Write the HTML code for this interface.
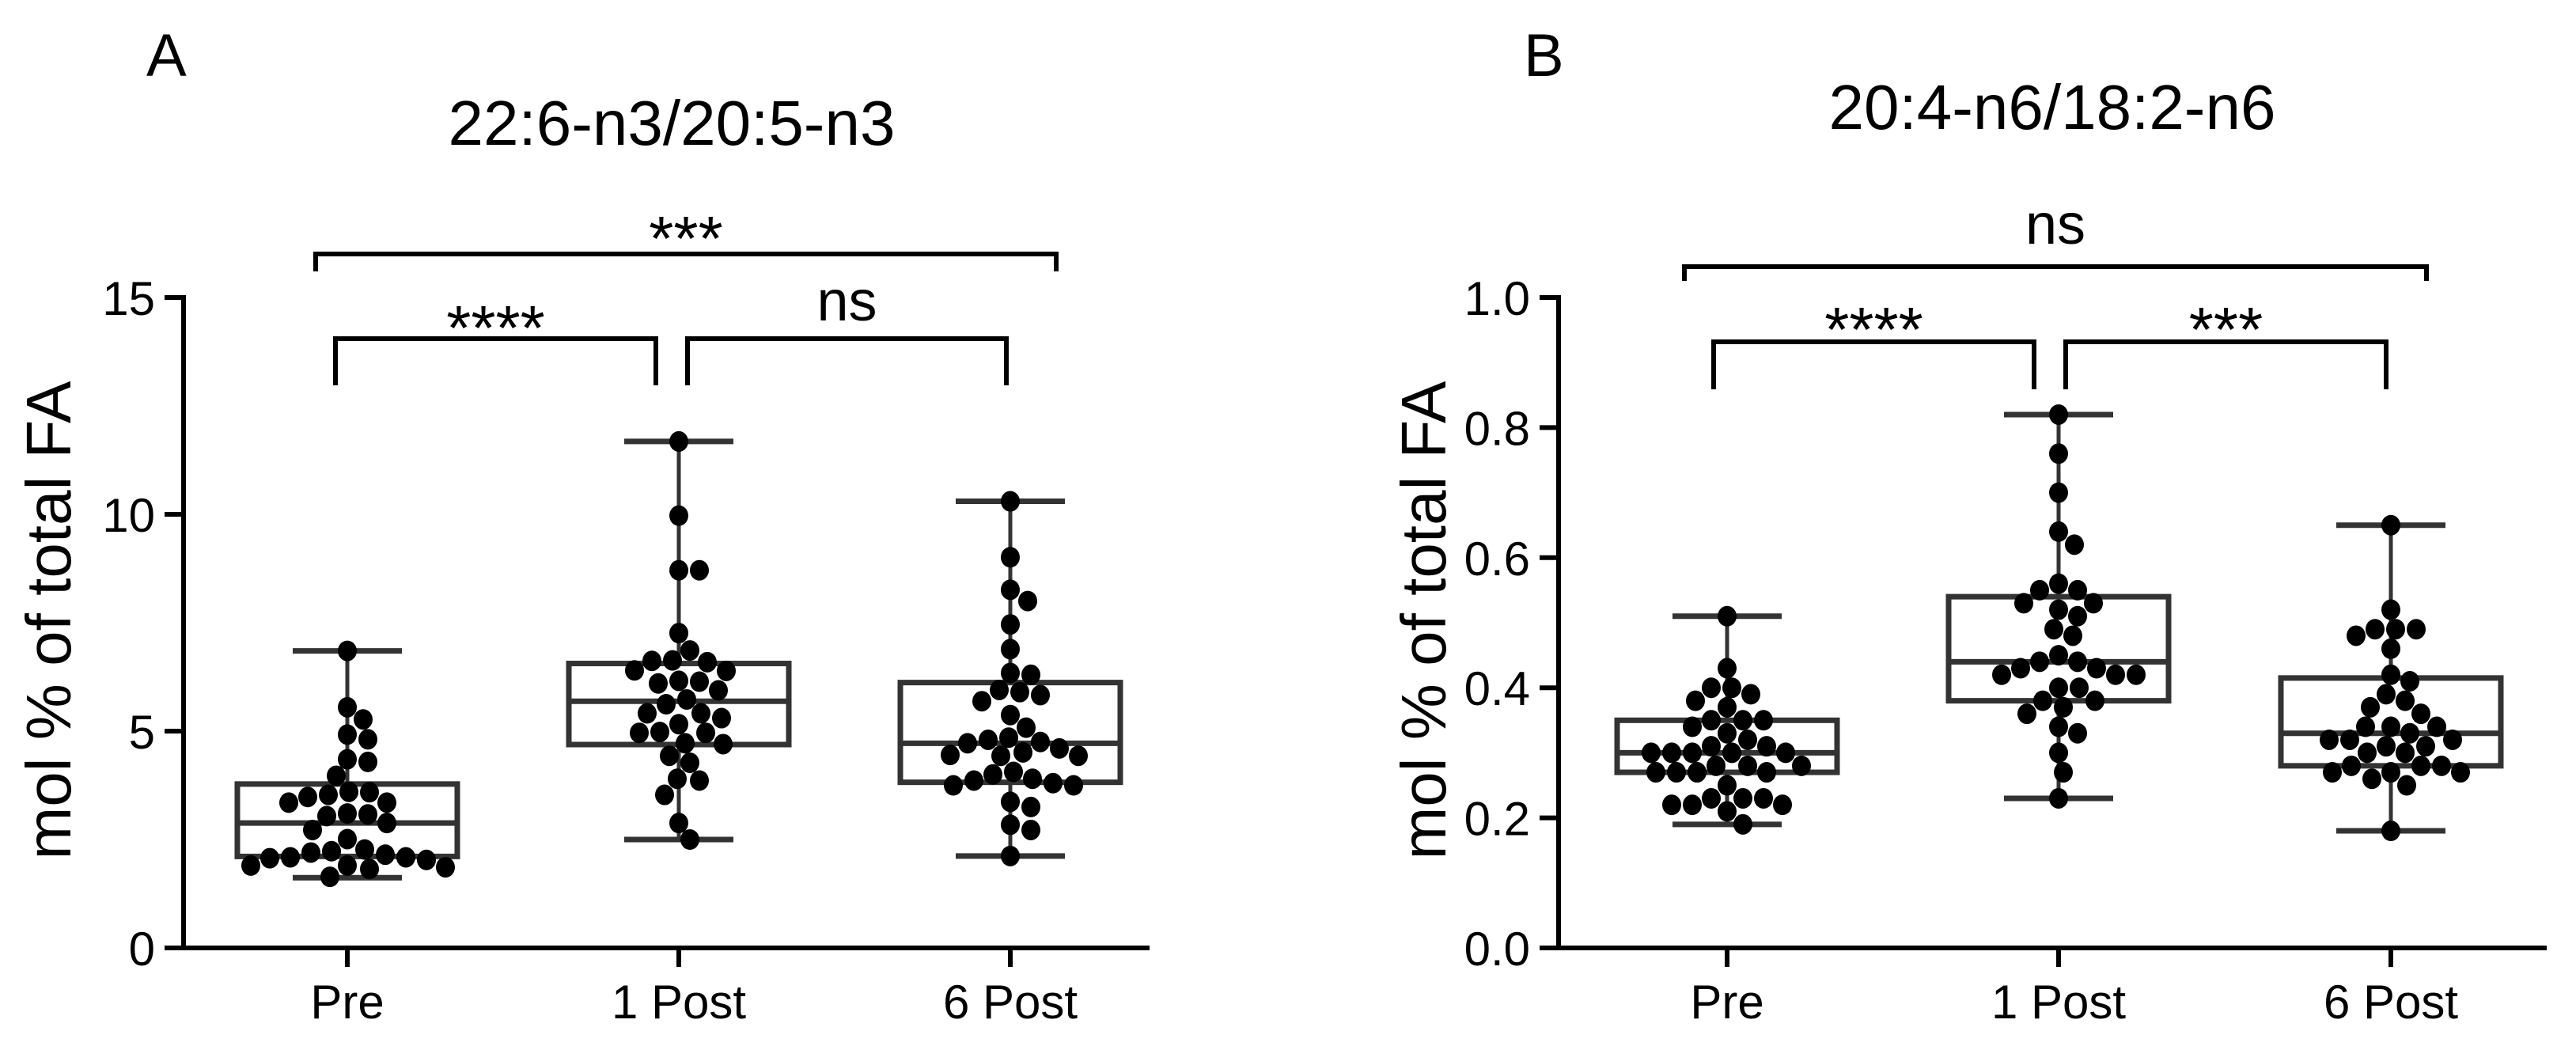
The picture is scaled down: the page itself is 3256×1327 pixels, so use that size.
<!DOCTYPE html>
<html><head><meta charset="utf-8"><style>html,body{margin:0;padding:0;background:#fff}svg{display:block}</style></head>
<body>
<svg id="fig" width="3256" height="1327" viewBox="0 0 3256 1327" xmlns="http://www.w3.org/2000/svg" font-family="Liberation Sans, Arial, sans-serif">
<rect width="3256" height="1327" fill="#fff"/>
<g id="pA"></g>
<g id="pB"></g>
</svg>
<script>
const categories = ["Pre", "1 Post", "6 Post"];
const ticksA = [0, 5, 10, 15];
const tickLabelsA = ["0", "5", "10", "15"];
const ticksB = [0, 0.2, 0.4, 0.6, 0.8, 1.0];
const tickLabelsB = ["0.0", "0.2", "0.4", "0.6", "0.8", "1.0"];
const aPre = [6.85,5.55,5.27,4.92,4.81,4.35,4.29,3.97,3.6,3.53,3.48,3.35,3.35,3.59,3.08,3.04,2.88,2.72,3.1,2.51,2.27,2.23,2.15,2.09,2.09,2.07,2.03,2.2,1.9,1.86,1.82,1.9,1.64];
const aPost1 = [11.68,9.97,8.71,8.71,7.26,6.86,6.62,6.59,6.63,6.39,6.4,6.16,6.14,6.1,5.94,5.73,5.62,5.41,5.41,5.3,5.16,4.98,4.96,4.96,4.72,4.7,4.43,4.27,3.86,3.9,3.53,2.88,2.5];
const aPost6 = [10.3,9.01,8.26,8.0,7.46,6.89,6.34,6.3,5.9,5.95,5.83,5.69,5.37,5.08,4.85,4.72,4.8,4.51,4.43,4.43,4.45,4.6,4.75,4.06,4.0,3.86,3.75,3.75,3.8,3.9,3.25,3.37,2.84,2.72,2.12];
const bPre = [0.51,0.43,0.40,0.39,0.40,0.38,0.37,0.35,0.35,0.35,0.34,0.33,0.32,0.31,0.31,0.30,0.30,0.30,0.30,0.30,0.28,0.28,0.28,0.27,0.27,0.27,0.27,0.25,0.23,0.23,0.22,0.22,0.23,0.21,0.22,0.19];
const bPost1 = [0.82,0.76,0.70,0.64,0.62,0.56,0.55,0.55,0.53,0.53,0.52,0.51,0.49,0.48,0.45,0.44,0.43,0.42,0.42,0.42,0.43,0.44,0.40,0.40,0.38,0.38,0.37,0.36,0.34,0.33,0.30,0.27,0.23];
const bPost6 = [0.65,0.52,0.49,0.49,0.48,0.49,0.46,0.42,0.41,0.39,0.38,0.37,0.36,0.34,0.34,0.34,0.33,0.32,0.32,0.31,0.30,0.30,0.31,0.32,0.28,0.28,0.27,0.26,0.27,0.27,0.28,0.25,0.18];
// box stats: [min, q1, median, q3, max]
const boxA = [[1.62,2.11,2.88,3.78,6.85],[2.50,4.69,5.69,6.56,11.68],[2.12,3.82,4.72,6.12,10.30]];
const boxB = [[0.19,0.27,0.30,0.35,0.51],[0.23,0.38,0.44,0.54,0.82],[0.18,0.28,0.33,0.415,0.65]];

const NS = "http://www.w3.org/2000/svg";
function mk(parent, tag, attrs, txt){
  const e = document.createElementNS(NS, tag);
  for (const k in attrs) e.setAttribute(k, attrs[k]);
  if (txt !== undefined) e.textContent = txt;
  parent.appendChild(e); return e;
}
function panel(g, cfg){
  const y = v => cfg.y0 - (v - cfg.vmin) / (cfg.vmax - cfg.vmin) * (cfg.y0 - cfg.yTop);
  const x = i => cfg.cx[i];
  let e;
  e = mk(g, "text", {x: cfg.letterX, y: 96, "font-size": 76}, cfg.letter);
  
  
  e = mk(g, "text", {x: cfg.titleX, y: cfg.titleY, "font-size": 80, "text-anchor": "middle"}, cfg.title);
  
  
  e = mk(g, "text", {x: cfg.ytX, y: 784, "font-size": 80, "text-anchor": "middle", transform: `rotate(-90 ${cfg.ytX} 784)`}, "mol % of total FA");
  
  
  e = mk(g, "line", {x1: cfg.ax, y1: cfg.yTop - 3, x2: cfg.ax, y2: cfg.y0 + 3, stroke: "#000", "stroke-width": 6});
  
  
  e = mk(g, "line", {x1: cfg.ax - 24, y1: cfg.y0, x2: cfg.axEnd, y2: cfg.y0, stroke: "#000", "stroke-width": 6});
  
  
  cfg.ticks.forEach((t, i) => {
    const tk = mk(g, "line", {x1: cfg.ax - 24, y1: y(t), x2: cfg.ax, y2: y(t), stroke: "#000", "stroke-width": 6});
    
    
    const tl = mk(g, "text", {x: cfg.ax - 36, y: y(t) + 22, "font-size": 60, "text-anchor": "end"}, cfg.tickLabels[i]);
    
    
  });
  categories.forEach((c, i) => {
    const tk = mk(g, "line", {x1: x(i), y1: cfg.y0, x2: x(i), y2: cfg.y0 + 24, stroke: "#000", "stroke-width": 6});
    
    
    const tl = mk(g, "text", {x: x(i), y: 1287, "font-size": 60, "text-anchor": "middle"}, c);
    
    
  });
  const hw = 139, cw = 69;
  cfg.box.forEach((b, i) => {
    const bg = mk(g, "g", {stroke: "#333", fill: "none"});
    
    
    mk(bg, "line", {x1: x(i), y1: y(b[0]), x2: x(i), y2: y(b[1]), "stroke-width": 5});
    mk(bg, "line", {x1: x(i), y1: y(b[3]), x2: x(i), y2: y(b[4]), "stroke-width": 5});
    mk(bg, "line", {x1: x(i) - cw, y1: y(b[0]), x2: x(i) + cw, y2: y(b[0]), "stroke-width": 7});
    mk(bg, "line", {x1: x(i) - cw, y1: y(b[4]), x2: x(i) + cw, y2: y(b[4]), "stroke-width": 7});
    mk(bg, "rect", {x: x(i) - hw, y: y(b[3]), width: 2 * hw, height: y(b[1]) - y(b[3]), "stroke-width": 7});
    mk(bg, "line", {x1: x(i) - hw, y1: y(b[2]), x2: x(i) + hw, y2: y(b[2]), "stroke-width": 7});
  });
  const D = 25;
  cfg.series.forEach((vals, i) => {
    const sg = mk(g, "g", {fill: "#000"});
    
    
    const placed = [];
    const sorted = vals.slice().sort((a, b) => b - a);
    sorted.forEach(v => {
      const py = y(v);
      let best = 0;
      for (let k = 0; k < 200; k++) {
        const cands = k === 0 ? [0] : [k * 2, -k * 2];
        let found = null;
        for (const dx of cands) {
          if (placed.every(p => Math.hypot(p[0] - dx, p[1] - py) >= D)) { found = dx; break; }
        }
        if (found !== null) { best = found; break; }
      }
      placed.push([best, py]);
      const c = mk(sg, "ellipse", {cx: x(i) + best, cy: py, rx: 12, ry: 13});
      
      
    });
  });
  cfg.brackets.forEach(br => {
    const bg = mk(g, "g", {});
    
    
    mk(bg, "path", {d: `M${br.x1},${br.yb + 22} V${br.y} H${br.x2} V${br.yb + 22}`, stroke: "#000", "stroke-width": 6, fill: "none"});
    const t = mk(bg, "text", {x: (br.x1 + br.x2) / 2, y: br.ty, "font-size": br.lbl === "ns" ? 72 : 80, "text-anchor": "middle"}, br.lbl);
    
    
  });
}
panel(document.getElementById("pA"), {
  letter: "A", letterX: 185, title: "22:6-n3/20:5-n3", titleX: 849, titleY: 183, ytX: 89,
  ax: 232, axEnd: 1453, y0: 1198, yTop: 376, vmin: 0, vmax: 15, cx: [439, 858, 1277],
  ticks: ticksA, tickLabels: tickLabelsA, box: boxA, series: [aPre, aPost1, aPost6],
  brackets: [
    {x1: 399, x2: 1335, y: 321, yb: 321, ty: 329, lbl: "***"},
    {x1: 424, x2: 829, y: 428, yb: 465, ty: 442, lbl: "****"},
    {x1: 869, x2: 1272, y: 428, yb: 465, ty: 405, lbl: "ns"}
  ]
});
panel(document.getElementById("pB"), {
  letter: "B", letterX: 1926, title: "20:4-n6/18:2-n6", titleX: 2594, titleY: 163, ytX: 1827,
  ax: 1970, axEnd: 3219, y0: 1198, yTop: 376, vmin: 0, vmax: 1.0, cx: [2183, 2602, 3022],
  ticks: ticksB, tickLabels: tickLabelsB, box: boxB, series: [bPre, bPost1, bPost6],
  brackets: [
    {x1: 2129, x2: 3067, y: 337, yb: 333, ty: 308, lbl: "ns"},
    {x1: 2166, x2: 2571, y: 432, yb: 470, ty: 444, lbl: "****"},
    {x1: 2611, x2: 3016, y: 432, yb: 470, ty: 444, lbl: "***"}
  ]
});
</script>
</body></html>
